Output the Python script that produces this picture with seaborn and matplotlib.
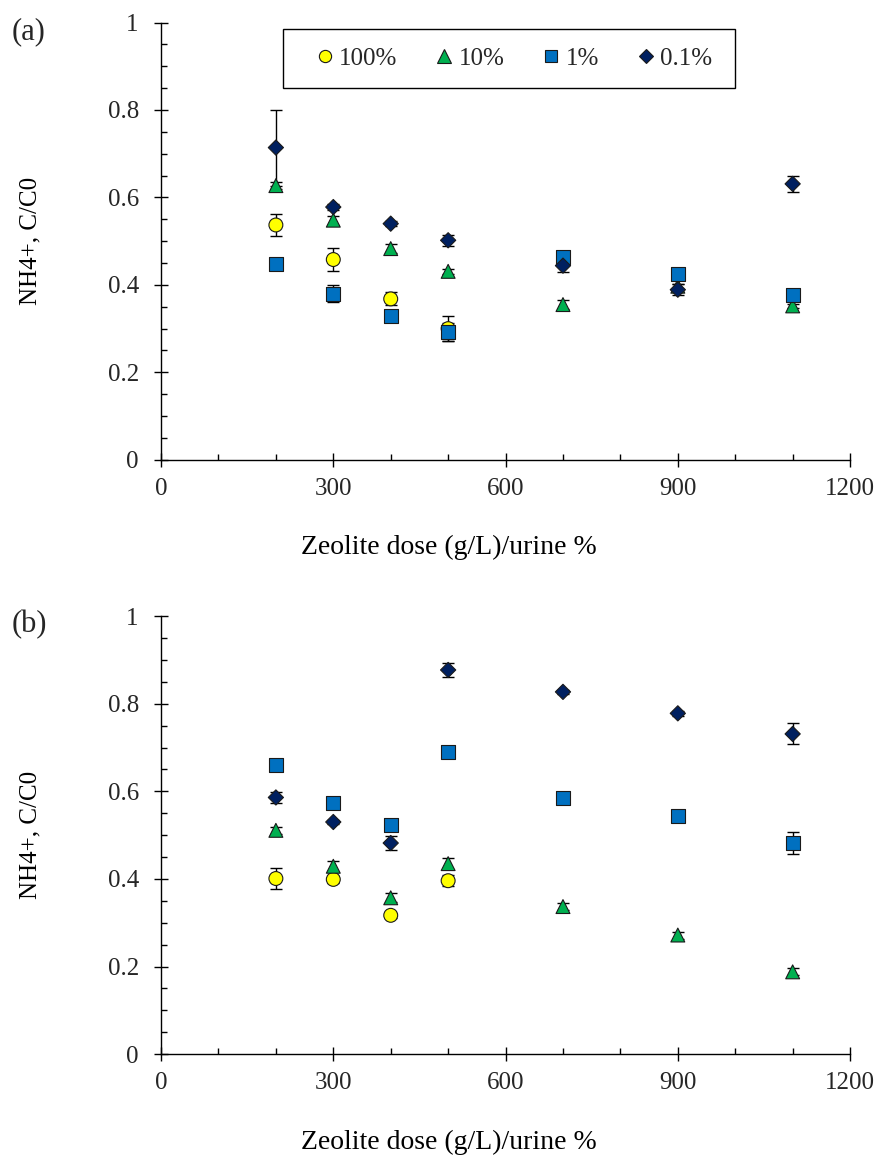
import numpy as np
import pandas as pd
import matplotlib
matplotlib.use("Agg")
import matplotlib.pyplot as plt
from matplotlib.lines import Line2D
from matplotlib.patches import Rectangle
from matplotlib.ticker import MultipleLocator, FuncFormatter
import seaborn as sns

# ---- data -------------------------------------------------------------
series_names = ["100%", "10%", "1%", "0.1%"]
dose_short = [200, 300, 400, 500]
dose_full = [200, 300, 400, 500, 700, 900, 1100]

# panel (a): NH4+ C/C0 and error
a_100 = [0.537, 0.458, 0.368, 0.300]
a_100_err = [0.025, 0.026, 0.015, 0.029]
a_10 = [0.627, 0.548, 0.483, 0.431, 0.355, 0.397, 0.352]
a_10_err = [0.008, 0.010, 0.010, 0.006, 0.010, 0.006, 0.005]
a_1 = [0.447, 0.380, 0.328, 0.292, 0.464, 0.425, 0.377]
a_1_err = [0.005, 0.019, 0.005, 0.020, 0.005, 0.005, 0.005]
a_01 = [0.714, 0.578, 0.540, 0.502, 0.444, 0.389, 0.631]
a_01_err = [0.087, 0.006, 0.005, 0.012, 0.015, 0.012, 0.019]

# panel (b)
b_100 = [0.401, 0.399, 0.317, 0.396]
b_100_err = [0.025, 0.008, 0.005, 0.013]
b_10 = [0.511, 0.429, 0.357, 0.435, 0.337, 0.272, 0.188]
b_10_err = [0.008, 0.012, 0.010, 0.012, 0.008, 0.008, 0.008]
b_1 = [0.660, 0.573, 0.524, 0.690, 0.584, 0.543, 0.483]
b_1_err = [0.005, 0.005, 0.005, 0.005, 0.005, 0.005, 0.025]
b_01 = [0.586, 0.530, 0.482, 0.877, 0.827, 0.778, 0.731]
b_01_err = [0.012, 0.005, 0.015, 0.015, 0.005, 0.005, 0.024]

x_ticks = [0, 300, 600, 900, 1200]
y_ticks = [0, 0.2, 0.4, 0.6, 0.8, 1.0]


def build_frame(values):
    rows = []
    for name, doses, vals, errs in values:
        for d, v, e in zip(doses, vals, errs):
            rows.append({"series": name, "dose": d, "ratio": v, "err": e})
    return pd.DataFrame(rows)


df_a = build_frame([
    ("100%", dose_short, a_100, a_100_err),
    ("10%", dose_full, a_10, a_10_err),
    ("1%", dose_full, a_1, a_1_err),
    ("0.1%", dose_full, a_01, a_01_err),
])
df_b = build_frame([
    ("100%", dose_short, b_100, b_100_err),
    ("10%", dose_full, b_10, b_10_err),
    ("1%", dose_full, b_1, b_1_err),
    ("0.1%", dose_full, b_01, b_01_err),
])

# ---- style ------------------------------------------------------------
sns.set_theme(style="ticks")
plt.rcParams["font.family"] = ["Liberation Serif", "DejaVu Serif"]

palette = {"100%": "#FFFF00", "10%": "#00B050", "1%": "#0070C0", "0.1%": "#002060"}
markers = {"100%": "o", "10%": "^", "1%": "s", "0.1%": "D"}
sizes = {"100%": 100, "10%": 100, "1%": 100, "0.1%": 60}
legend_ms = {"100%": 8.8, "10%": 9.5, "1%": 9.0, "0.1%": 6.8}
FS = 18

fig = plt.figure(figsize=(8.8, 11.6), dpi=100)
ax_a = fig.add_axes([0.183, 0.6036, 0.783, 0.377])
ax_b = fig.add_axes([0.183, 0.0912, 0.783, 0.3777])


def draw_panel(ax, df):
    ax.errorbar(df["dose"], df["ratio"], yerr=df["err"], fmt="none",
                ecolor="black", elinewidth=1.0, capsize=4.2, capthick=1.0,
                zorder=2)
    sns.scatterplot(data=df, x="dose", y="ratio", hue="series", style="series",
                    size="series", hue_order=series_names, style_order=series_names,
                    size_order=series_names, palette=palette, markers=markers,
                    sizes=sizes, edgecolor="#1a1a1a", linewidth=0.8,
                    legend=False, ax=ax, zorder=3)

    ax.set_xlim(0, 1200)
    ax.set_ylim(0, 1)
    ax.set_xticks(x_ticks)
    ax.set_yticks(y_ticks)
    ax.xaxis.set_minor_locator(MultipleLocator(100))
    ax.yaxis.set_minor_locator(MultipleLocator(0.05))
    ax.yaxis.set_major_formatter(FuncFormatter(lambda v, p: f"{v:g}"))

    for side in ("top", "right"):
        ax.spines[side].set_visible(False)
    for side in ("left", "bottom"):
        ax.spines[side].set_color("black")
        ax.spines[side].set_linewidth(1.0)

    ax.tick_params(axis="x", which="major", direction="inout", length=10,
                   width=1.0, color="black", labelsize=FS, pad=8)
    ax.tick_params(axis="y", which="major", direction="inout", length=10,
                   width=1.0, color="black", labelsize=FS, pad=11)
    ax.tick_params(axis="both", which="minor", direction="in", length=4,
                   width=1.0, color="black")

    ax.set_xlabel("Zeolite dose (g/L)/urine %", fontsize=20, color="black")
    ax.set_ylabel("NH4+, C/C0", fontsize=FS, color="black")
    ax.xaxis.set_label_coords(0.418, -0.172)
    ax.yaxis.set_label_coords(-0.173, 0.5)
    ax.set_facecolor("white")


draw_panel(ax_a, df_a)
draw_panel(ax_b, df_b)

# legend of panel (a), single row inside a plain frame
handles = [Line2D([], [], linestyle="none", marker=markers[n],
                  markersize=legend_ms[n], markerfacecolor=palette[n],
                  markeredgecolor="#1a1a1a", markeredgewidth=0.8)
           for n in series_names]
ax_a.legend(handles, series_names, loc="center", bbox_to_anchor=(0.514, 0.918),
            ncol=4, frameon=False, fontsize=FS, handlelength=0.55,
            handletextpad=0.3, columnspacing=1.6, borderpad=0.0)
ax_a.add_patch(Rectangle((0.177, 0.850), 0.656, 0.135, transform=ax_a.transAxes,
                         facecolor="white", edgecolor="black", linewidth=1.0,
                         zorder=4))
ax_a.get_legend().set_zorder(5)

fig.text(0.0136, 0.973, "(a)", fontsize=22, ha="left", va="center")
fig.text(0.0136, 0.4616, "(b)", fontsize=22, ha="left", va="center")

fig.patch.set_facecolor("white")
fig.savefig("out.png", dpi=100, facecolor="white")
